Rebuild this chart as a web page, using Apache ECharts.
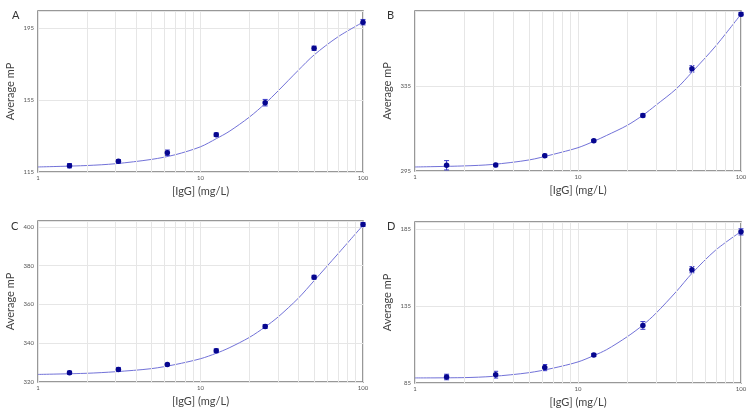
<!DOCTYPE html>
<html><head><meta charset="utf-8">
<script src="https://cdn.jsdelivr.net/npm/echarts@6/dist/echarts.min.js"></script>
<style>html,body{margin:0;padding:0;background:#fff}#c{width:750px;height:419px}</style>
</head><body><div id="c"></div>
<script>
// Concentrations (mg/L)
const doses = [1.5625, 3.125, 6.25, 12.5, 25, 50, 100];
// Measured average mP
const meanA = [118.5, 120.9, 125.7, 135.7, 153.5, 183.7, 198.2];
const meanB = [297.7, 297.8, 302.2, 309.3, 321.2, 343.2, 369.0];
const meanC = [324.8, 326.5, 329.0, 336.1, 348.6, 374.0, 401.2];
const meanD = [88.9, 90.4, 95.0, 103.2, 122.4, 158.6, 183.2];
// Error (half-width)
const errA = [1.2, 1.0, 1.5, 1.0, 1.8, 1.2, 1.5];
const errB = [2.2, 0.8, 0.8, 0.6, 0.8, 1.5, 0.8];
const errC = [0.8, 1.0, 0.6, 1.0, 1.0, 1.0, 1.0];
const errD = [1.8, 2.2, 2.0, 1.0, 2.5, 2.0, 2.0];
// Fitted curves
const curveX = [1, 2, 3, 5, 7, 10, 12.5, 15, 20, 25, 30, 40, 50, 70, 100];
const curveA = [117.8, 118.6, 119.6, 122.0, 124.6, 129.0, 133.5, 137.5, 145.5, 153.0, 160.0, 171.5, 180.0, 190.0, 198.2];
const curveB = [296.9, 297.4, 298.1, 300.2, 302.8, 306.0, 309.0, 311.8, 316.5, 321.3, 326.0, 333.7, 341.6, 354.0, 369.0];
const curveC = [323.9, 324.5, 325.3, 326.9, 329.0, 332.0, 334.8, 337.6, 343.0, 348.4, 353.5, 363.2, 372.2, 386.0, 400.8];
const curveD = [88.3, 88.5, 89.3, 91.7, 94.6, 98.7, 102.8, 106.7, 115.0, 122.6, 130.2, 144.3, 156.2, 171.4, 183.4];
// Axis settings
const yMin = [115, 295, 320, 85];
const yMax = [204.4, 370.5, 403, 189.6];
const yStep = [40, 40, 20, 50];
const minorX = [2, 3, 4, 5, 6, 7, 8, 9, 20, 30, 40, 50, 60, 70, 80, 90];
const panelLetters = ['A', 'B', 'C', 'D'];
const xTitle = '[IgG] (mg/L)';
const yTitle = 'Average mP';

const means = [meanA, meanB, meanC, meanD];
const errs = [errA, errB, errC, errD];
const curves = [curveA, curveB, curveC, curveD];

const grids = [
  {left: 38, top: 11, width: 325, height: 161},
  {left: 415, top: 11, width: 326, height: 160},
  {left: 38, top: 221, width: 325, height: 161},
  {left: 415, top: 222, width: 326, height: 161}
];
const letterPos = [[12, 10], [387, 10], [11, 221], [387, 221]];
const FONT = 'Lato, "Open Sans", sans-serif';
const option = {
  animation: false,
  backgroundColor: '#fff',
  title: panelLetters.map((t, i) => ({
    text: t, left: letterPos[i][0], top: letterPos[i][1], padding: 0,
    textStyle: {fontSize: 11, fontWeight: 'normal', color: '#333', fontFamily: FONT}
  })),
  grid: grids.map(g => Object.assign({show: true, borderColor: '#777', borderWidth: 1.5, containLabel: false}, g)),
  xAxis: grids.map((g, i) => ({
    type: 'log', logBase: 10, gridIndex: i, min: 1, max: 100,
    name: xTitle, nameLocation: 'middle', nameGap: 14,
    nameTextStyle: {fontSize: 11, color: '#444', fontFamily: FONT},
    axisLine: {show: false}, axisTick: {show: false},
    axisLabel: {fontSize: 6, color: '#555', margin: 3, fontFamily: FONT},
    splitLine: {show: true, lineStyle: {color: '#e6e6e6', width: 1}}
  })),
  yAxis: grids.map((g, i) => ({
    type: 'value', gridIndex: i, min: yMin[i], max: yMax[i], interval: yStep[i],
    name: yTitle, nameLocation: 'middle', nameGap: 22,
    nameTextStyle: {fontSize: 11, color: '#444', fontFamily: FONT},
    axisLine: {show: false}, axisTick: {show: false},
    axisLabel: {fontSize: 6, color: '#555', margin: 4, showMaxLabel: false, fontFamily: FONT},
    splitLine: {show: true, lineStyle: {color: '#e6e6e6', width: 1}}
  })),
  series: []
};
for (let i = 0; i < 4; i++) {
  option.series.push({
    type: 'line', xAxisIndex: i, yAxisIndex: i, smooth: 0.3,
    showSymbol: false, silent: true,
    data: curveX.map((x, k) => [x, curves[i][k]]),
    lineStyle: {color: '#7272d8', width: 1},
    markLine: {
      silent: true, symbol: ['none', 'none'], label: {show: false},
      lineStyle: {color: '#e6e6e6', width: 1, type: 'solid'},
      data: minorX.map(v => ({xAxis: v}))
    },
    z: 3
  });
  option.series.push({
    type: 'custom', xAxisIndex: i, yAxisIndex: i, silent: true,
    data: doses.map((x, k) => [x, means[i][k] - errs[i][k], means[i][k] + errs[i][k]]),
    renderItem: function (params, api) {
      const x = api.value(0);
      const lo = api.coord([x, api.value(1)]);
      const hi = api.coord([x, api.value(2)]);
      const w = 2.5;
      const st = {stroke: '#3a3ac8', lineWidth: 1};
      return {type: 'group', children: [
        {type: 'line', shape: {x1: lo[0], y1: lo[1], x2: hi[0], y2: hi[1]}, style: st},
        {type: 'line', shape: {x1: lo[0] - w, y1: lo[1], x2: lo[0] + w, y2: lo[1]}, style: st},
        {type: 'line', shape: {x1: hi[0] - w, y1: hi[1], x2: hi[0] + w, y2: hi[1]}, style: st}
      ]};
    },
    z: 4
  });
  option.series.push({
    type: 'scatter', xAxisIndex: i, yAxisIndex: i, silent: true,
    symbol: 'circle', symbolSize: 5.5,
    itemStyle: {color: '#06068f', opacity: 1},
    data: doses.map((x, k) => [x, means[i][k]]),
    z: 5
  });
}
const chart = echarts.init(document.getElementById('c'), null, {renderer: 'canvas'});
chart.setOption(option);
</script></body></html>
